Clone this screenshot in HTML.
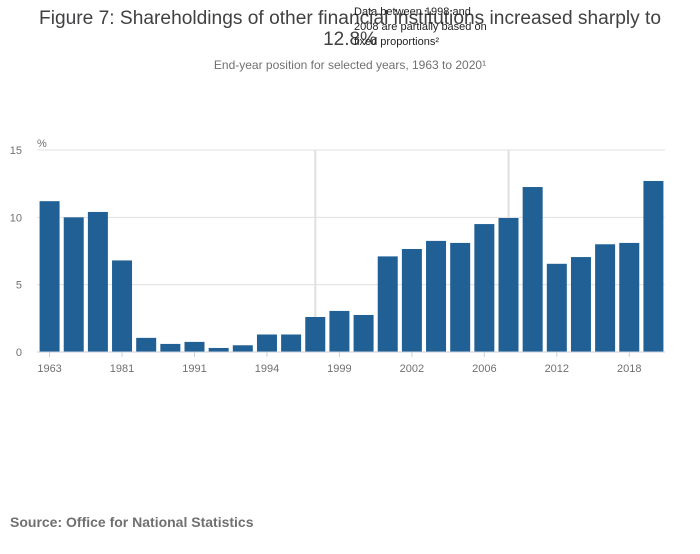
<!DOCTYPE html>
<html><head><meta charset="utf-8"><style>
body{margin:0;background:#fff;font-family:"Liberation Sans",sans-serif;}
</style></head><body>
<svg width="700" height="549" xmlns="http://www.w3.org/2000/svg" font-family="Liberation Sans, sans-serif">
<text x="350" y="24" text-anchor="middle" font-size="19" fill="#414042" textLength="622" lengthAdjust="spacingAndGlyphs">Figure 7: Shareholdings of other financial institutions increased sharply to</text>
<text x="350" y="45" text-anchor="middle" font-size="19" fill="#414042">12.8%</text>
<text x="354" y="15" font-size="11" fill="#222">Data between 1998 and</text>
<text x="354" y="30" font-size="11" fill="#222">2008 are partially based on</text>
<text x="354" y="45" font-size="11" fill="#222">fixed proportions²</text>
<text x="350" y="69" text-anchor="middle" font-size="12" fill="#707071">End-year position for selected years, 1963 to 2020¹</text>
<text x="37" y="147" font-size="11" fill="#707071">%</text>
<g id="grid"></g>
<g id="bars"></g>
<g id="xaxis"></g>
<text x="10" y="527" font-size="14" font-weight="bold" fill="#707071">Source: Office for National Statistics</text>
</svg>
<script>
const categories=["1963","1969","1975","1981","1989","1990","1991","1992","1993","1994","1997","1998","1999","2000","2001","2002","2003","2004","2006","2008","2010","2012","2014","2016","2018","2020"];
const values=[11.2,10.0,10.4,6.8,1.05,0.6,0.75,0.3,0.5,1.3,1.3,2.6,3.05,2.75,7.1,7.65,8.25,8.1,9.5,9.95,12.25,6.55,7.05,8.0,8.1,12.7];
const yTicks=[0,5,10,15];
const xLabelIdx=[0,3,6,9,12,15,18,21,24];
const xLabels=["1963","1981","1991","1994","1999","2002","2006","2012","2018"];
const markerIdx=[11,19];
const NS="http://www.w3.org/2000/svg";
const x0=37,x1=665,y0=352,yTop=150,band=(x1-x0)/categories.length,bw=20;
const y=v=>y0-(v/15)*(y0-yTop);
const xc=i=>x0+band*(i+0.5)+0.5;
function mk(t,a,p){const e=document.createElementNS(NS,t);for(const k in a)e.setAttribute(k,a[k]);p.appendChild(e);return e;}
const g=document.getElementById('grid'),b=document.getElementById('bars'),xa=document.getElementById('xaxis');
yTicks.forEach(t=>{
 const l=mk('line',{x1:x0,x2:x1,y1:y(t),y2:y(t),stroke:t===0?'#c8d0dc':'#e0e0e0','stroke-width':1},g);
 
 
 const tx=mk('text',{x:22,y:y(t)+4,'text-anchor':'end','font-size':11,fill:'#707071'},g);
 tx.textContent=t;
 
 
});
markerIdx.forEach(i=>{
 const l=mk('line',{x1:xc(i),x2:xc(i),y1:yTop,y2:y0,stroke:'#e0e0e0','stroke-width':2},g);
 
 
});
values.forEach((v,i)=>{
 const r=mk('rect',{x:xc(i)-bw/2,y:y(v),width:bw,height:y0-y(v),fill:'#206095'},b);
 
 
});
mk('line',{x1:x0,x2:x1,y1:y0,y2:y0,stroke:'#c8d0dc','stroke-width':1},xa);
xLabelIdx.forEach((i,k)=>{
 mk('line',{x1:xc(i),x2:xc(i),y1:y0,y2:y0+5,stroke:'#c8d0dc'},xa);
 const tx=mk('text',{x:xc(i),y:372,'text-anchor':'middle','font-size':11,fill:'#707071'},xa);
 tx.textContent=xLabels[k];
 
 
});
</script>
</body></html>
